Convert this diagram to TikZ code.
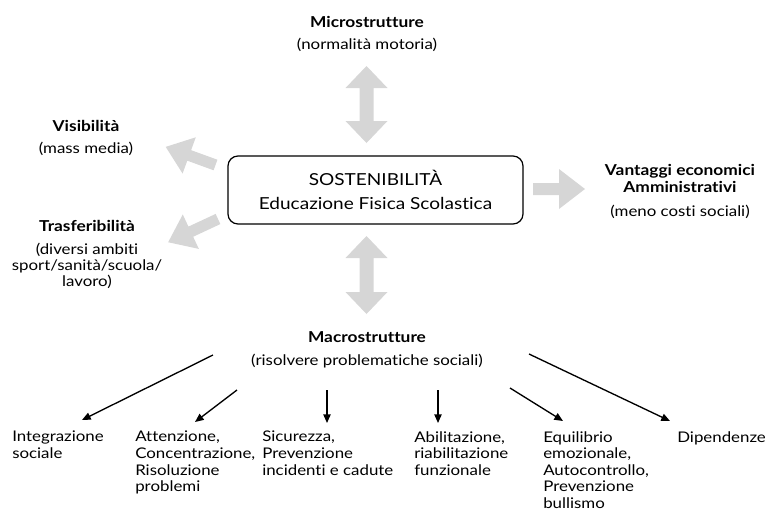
\documentclass[tikz,border=0pt]{standalone}
\usepackage{fontspec}
\setmainfont{Lato}[FakeStretch=1.15,Ligatures=NoCommon]
\usetikzlibrary{arrows.meta,calc}
\definecolor{fatgray}{RGB}{214,214,214}
\newcommand\myfatarrow[7]{\fill[fat,shift={(#1,#2)},rotate=#3] (0,#5) -- ({#4-#7},#5) -- ({#4-#7},#6) -- (#4,0) -- ({#4-#7},-#6) -- ({#4-#7},-#5) -- (0,-#5) -- cycle;}
\newcommand\myfatdouble[7]{\fill[fat,shift={(#1,#2)},rotate=#3] (0,0) -- (#7,#6) -- (#7,#5) -- ({#4-#7},#5) -- ({#4-#7},#6) -- (#4,0) -- ({#4-#7},-#6) -- ({#4-#7},-#5) -- (#7,-#5) -- (#7,-#6) -- cycle;}
\begin{document}
\begin{tikzpicture}[x=0.75pt,y=-0.75pt,
  fat/.style={fill=fatgray,draw=none},
  ttl/.style={font=\bfseries\fontsize{11.3}{12.75}\selectfont,inner sep=0,align=center},
  sub/.style={font=\fontsize{11}{12}\selectfont,inner sep=0,align=center},
  leaf/.style={font=\fontsize{11}{12.4}\selectfont,inner sep=0,align=left,anchor=north west},
  thinarrow/.style={line width=1pt,-{Triangle[length=6.5pt,width=5.5pt]}},
  mainbox/.style={draw,rounded corners=7.5pt,line width=0.9pt,minimum width=221.25pt,minimum height=51pt,inner sep=0,align=center,font=\fontsize{12.4}{18}\selectfont}
]
\useasboundingbox (0,0) rectangle (769,518);
% big grey arrows
\myfatdouble{366.5}{143}{90}{77}{7}{21}{22}
\myfatdouble{366.5}{314}{90}{78}{7}{21}{22}
\myfatarrow{533}{189}{0}{52}{6}{20}{26}
\myfatarrow{215.5}{165}{160}{53}{5.6}{19.3}{25}
\myfatarrow{218}{219}{205}{55}{5.6}{19}{25}
% central box
\node[mainbox] (box) at (375.5,190) {SOSTENIBILITÀ\\Educazione Fisica Scolastica};
% top
\node[ttl] (micro) at (367,22) {Microstrutture};
\node[sub] (microsub) at (367,45) {(normalità motoria)};
% left
\node[ttl] (vis) at (86,126) {Visibilità};
\node[sub] (vissub) at (86,149) {(mass media)};
\node[ttl] (tras) at (87,226) {Trasferibilità};
\node[sub] (trassub) at (87,266) {(diversi ambiti\\sport/sanità/scuola/\\lavoro)};
% right
\node[ttl] (vant) at (680,178.5) {Vantaggi economici\\Amministrativi};
\node[sub] (vantsub) at (680,212) {(meno costi sociali)};
% bottom
\node[ttl] (macro) at (367,337) {Macrostrutture};
\node[sub] (macrosub) at (367,361) {(risolvere problematiche sociali)};
\node[leaf] (l1) at (12,431) {Integrazione\\sociale};
\node[leaf] (l2) at (135,431) {Attenzione,\\Concentrazione,\\Risoluzione\\problemi};
\node[leaf] (l3) at (262,431) {Sicurezza,\\Prevenzione\\incidenti e cadute};
\node[leaf] (l4) at (414,431) {Abilitazione,\\riabilitazione\\funzionale};
\node[leaf] (l5) at (543,431) {Equilibrio\\emozionale,\\Autocontrollo,\\Prevenzione\\bullismo};
\node[leaf] (l6) at (677,431) {Dipendenze};
% arrow start points
\coordinate (s1) at (213,355);
\coordinate (s2) at (237,390);
\coordinate (s3) at (327,390);
\coordinate (s4) at (438,390);
\coordinate (s5) at (510,388);
\coordinate (s6) at (529,354);
\draw[thinarrow] (s1) -- ($(l1.north west)+(70,-11)$);
\draw[thinarrow] (s2) -- ($(l2.north west)+(60,-9)$);
\draw[thinarrow] (s3) -- ($(l3.north west)+(65,-8)$);
\draw[thinarrow] (s4) -- ($(l4.north west)+(24,-8)$);
\draw[thinarrow] (s5) -- ($(l5.north west)+(20,-10)$);
\draw[thinarrow] (s6) -- ($(l6.north west)+(-7,-10)$);
\end{tikzpicture}
\end{document}
